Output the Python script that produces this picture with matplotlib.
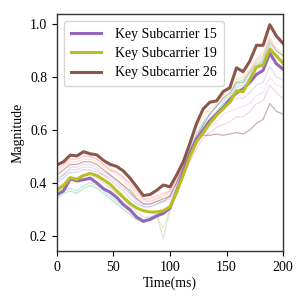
import numpy as np
import matplotlib
matplotlib.use("Agg")
import matplotlib.pyplot as plt

plt.rcParams['font.family'] = ['Liberation Serif', 'DejaVu Serif']
plt.rcParams['mathtext.fontset'] = 'stix'

time_ms = np.linspace(0, 200, 35)

key_15 = [0.355, 0.37, 0.415, 0.408, 0.412, 0.418, 0.400, 0.378, 0.365, 0.345, 0.318, 0.298,
          0.270, 0.255, 0.262, 0.275, 0.285, 0.305, 0.37, 0.44, 0.51, 0.565, 0.60, 0.635,
          0.66, 0.685, 0.715, 0.74, 0.755, 0.78, 0.81, 0.825, 0.89, 0.85, 0.83]
key_19 = [0.372, 0.39, 0.42, 0.413, 0.428, 0.436, 0.428, 0.412, 0.395, 0.37, 0.345, 0.322,
          0.305, 0.295, 0.29, 0.29, 0.295, 0.31, 0.365, 0.43, 0.50, 0.555, 0.59, 0.625,
          0.655, 0.68, 0.705, 0.748, 0.745, 0.79, 0.838, 0.845, 0.905, 0.88, 0.852]
key_26 = [0.468, 0.48, 0.505, 0.502, 0.518, 0.510, 0.506, 0.485, 0.470, 0.462, 0.445, 0.418,
          0.385, 0.352, 0.356, 0.372, 0.392, 0.385, 0.43, 0.48, 0.55, 0.625, 0.68, 0.705,
          0.71, 0.745, 0.76, 0.835, 0.82, 0.86, 0.92, 0.92, 0.998, 0.955, 0.927]

other_subcarriers = [
    [0.40, 0.42, 0.44, 0.44, 0.45, 0.45, 0.44, 0.43, 0.41, 0.39, 0.37, 0.34, 0.32, 0.31, 0.31, 0.32, 0.33, 0.35,
     0.40, 0.46, 0.52, 0.57, 0.61, 0.64, 0.67, 0.70, 0.72, 0.76, 0.77, 0.80, 0.84, 0.86, 0.92, 0.88, 0.86],
    [0.44, 0.46, 0.48, 0.48, 0.49, 0.49, 0.48, 0.46, 0.45, 0.43, 0.41, 0.38, 0.35, 0.33, 0.33, 0.34, 0.35, 0.37,
     0.42, 0.48, 0.55, 0.61, 0.65, 0.68, 0.70, 0.73, 0.75, 0.79, 0.80, 0.83, 0.87, 0.89, 0.95, 0.91, 0.89],
    [0.34, 0.36, 0.37, 0.36, 0.38, 0.39, 0.38, 0.36, 0.34, 0.32, 0.30, 0.28, 0.26, 0.25, 0.26, 0.27, 0.29, 0.31,
     0.37, 0.44, 0.51, 0.57, 0.62, 0.66, 0.69, 0.72, 0.74, 0.78, 0.78, 0.82, 0.85, 0.87, 0.93, 0.90, 0.88],
    [0.45, 0.47, 0.49, 0.49, 0.50, 0.50, 0.49, 0.47, 0.45, 0.44, 0.42, 0.40, 0.37, 0.34, 0.34, 0.35, 0.36, 0.37,
     0.41, 0.46, 0.52, 0.58, 0.62, 0.66, 0.69, 0.72, 0.74, 0.78, 0.79, 0.82, 0.86, 0.88, 0.94, 0.90, 0.88],
    [0.42, 0.43, 0.45, 0.45, 0.46, 0.46, 0.45, 0.43, 0.42, 0.40, 0.38, 0.36, 0.34, 0.32, 0.32, 0.33, 0.33, 0.34,
     0.38, 0.43, 0.48, 0.53, 0.57, 0.59, 0.61, 0.62, 0.63, 0.65, 0.65, 0.67, 0.70, 0.71, 0.77, 0.74, 0.72],
    [0.38, 0.40, 0.42, 0.42, 0.43, 0.43, 0.42, 0.40, 0.38, 0.36, 0.34, 0.31, 0.29, 0.27, 0.27, 0.28, 0.19, 0.30,
     0.37, 0.44, 0.51, 0.56, 0.60, 0.63, 0.66, 0.69, 0.71, 0.74, 0.75, 0.78, 0.81, 0.83, 0.88, 0.85, 0.83],
    [0.36, 0.38, 0.40, 0.40, 0.41, 0.41, 0.40, 0.38, 0.36, 0.34, 0.32, 0.30, 0.28, 0.26, 0.26, 0.27, 0.23, 0.30,
     0.36, 0.43, 0.50, 0.56, 0.60, 0.64, 0.67, 0.70, 0.72, 0.75, 0.76, 0.79, 0.83, 0.85, 0.90, 0.87, 0.85],
    [0.35, 0.37, 0.38, 0.37, 0.39, 0.40, 0.39, 0.37, 0.35, 0.33, 0.31, 0.29, 0.27, 0.26, 0.27, 0.28, 0.29, 0.31,
     0.37, 0.45, 0.53, 0.59, 0.63, 0.66, 0.69, 0.71, 0.73, 0.77, 0.78, 0.81, 0.84, 0.86, 0.91, 0.88, 0.86],
    [0.43, 0.45, 0.47, 0.47, 0.48, 0.48, 0.47, 0.45, 0.43, 0.41, 0.39, 0.37, 0.34, 0.32, 0.32, 0.33, 0.34, 0.35,
     0.40, 0.46, 0.52, 0.57, 0.58, 0.58, 0.585, 0.58, 0.585, 0.59, 0.585, 0.60, 0.625, 0.64, 0.70, 0.67, 0.66],
    [0.41, 0.43, 0.46, 0.46, 0.47, 0.47, 0.46, 0.44, 0.43, 0.41, 0.39, 0.36, 0.33, 0.31, 0.31, 0.32, 0.33, 0.35,
     0.40, 0.46, 0.53, 0.58, 0.62, 0.64, 0.66, 0.68, 0.70, 0.72, 0.72, 0.74, 0.77, 0.78, 0.84, 0.80, 0.79],
    [0.46, 0.48, 0.50, 0.50, 0.51, 0.50, 0.49, 0.47, 0.46, 0.44, 0.42, 0.39, 0.36, 0.34, 0.33, 0.34, 0.35, 0.36,
     0.40, 0.45, 0.51, 0.55, 0.58, 0.61, 0.63, 0.66, 0.67, 0.68, 0.69, 0.70, 0.73, 0.74, 0.80, 0.77, 0.76],
]
other_colors = ['tab:blue', 'tab:orange', 'tab:green', 'tab:red', 'tab:pink', 'tab:gray',
                'tab:olive', 'tab:cyan', '#9c6e66', 'tab:purple', 'tab:pink']
other_alpha = [0.22, 0.22, 0.28, 0.22, 0.3, 0.22, 0.22, 0.28, 0.55, 0.22, 0.2]

fig = plt.figure(figsize=(3.06, 3.06), dpi=100)
ax = fig.add_axes([0.186, 0.180, 0.739, 0.774])

for vals, c, a in zip(other_subcarriers, other_colors, other_alpha):
    ax.plot(time_ms, vals, color=c, alpha=a, lw=0.9)

ax.plot(time_ms, key_15, color='#9467bd', lw=2.2, label='Key Subcarrier 15')
ax.plot(time_ms, key_19, color='#bcbd22', lw=2.2, label='Key Subcarrier 19')
ax.plot(time_ms, key_26, color='#8c564b', lw=2.2, label='Key Subcarrier 26')

ax.set_xlim(0, 200)
ax.set_ylim(0.143, 1.038)
ax.set_xticks([0, 50, 100, 150, 200])
ax.set_yticks([0.2, 0.4, 0.6, 0.8, 1.0])
ax.tick_params(labelsize=10, length=3.5, width=0.8)
ax.set_xlabel('Time(ms)', fontsize=10, labelpad=2)
ax.set_ylabel('Magnitude', fontsize=10, labelpad=4)
for s in ax.spines.values():
    s.set_linewidth(1.0)
    s.set_color('#333333')
ax.legend(loc='upper left', fontsize=10, frameon=True, framealpha=0.8, edgecolor='#cccccc',
          handlelength=2.2, borderpad=0.5, labelspacing=0.45, handletextpad=1.0)

fig.savefig('out.png', dpi=100)
